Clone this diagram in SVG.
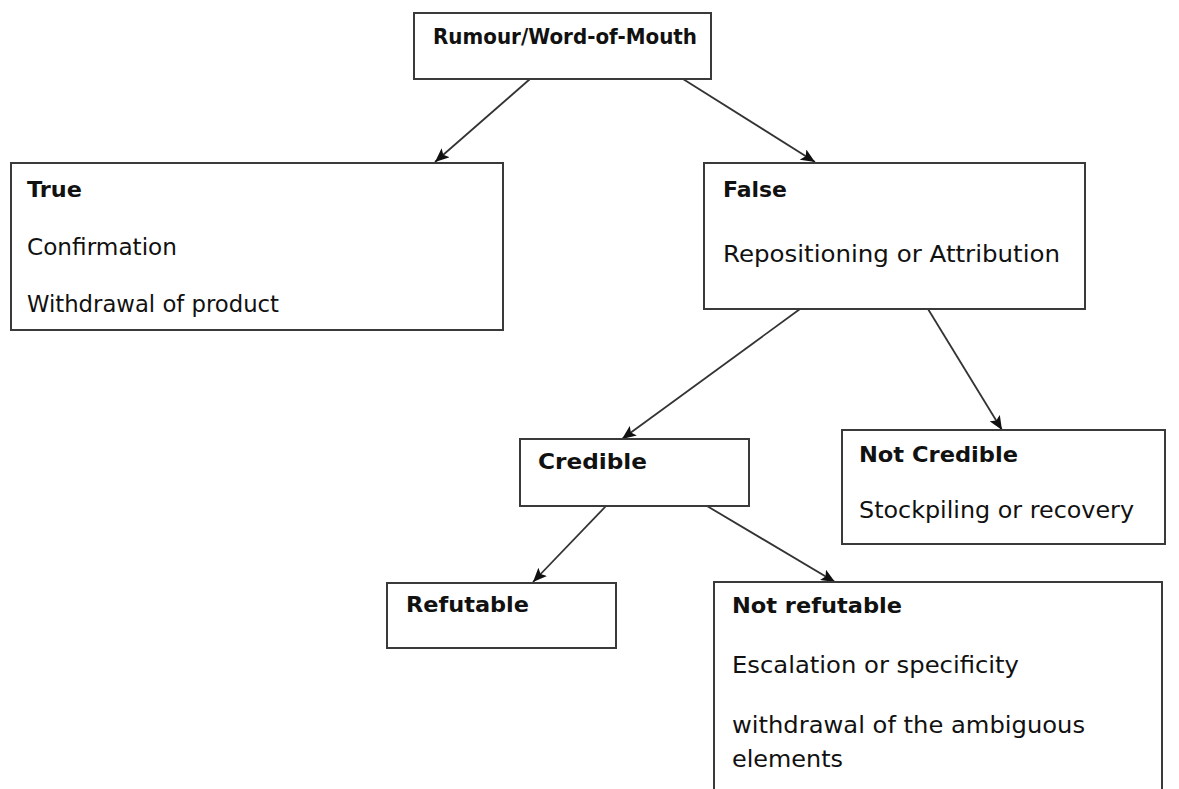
<svg xmlns="http://www.w3.org/2000/svg" width="1179" height="789" viewBox="0 0 1179 789">
  <style>
    .box { fill: #ffffff; stroke: #3a3a3a; stroke-width: 2; }
    .head { font-family: "DejaVu Sans", "Noto Sans", sans-serif; font-size: 22px; font-weight: bold; fill: #111111; }
    .body { font-family: "DejaVu Sans", "Noto Sans", sans-serif; font-size: 23px; fill: #111111; }
    .link { stroke: #333333; stroke-width: 1.8; fill: none; marker-end: url(#arrow); }
  </style>
  <defs>
    <!-- solid triangular arrowhead shared by every connector -->
    <marker id="arrow" viewBox="0 0 14 12" refX="14" refY="6" markerWidth="14" markerHeight="12" markerUnits="userSpaceOnUse" orient="auto">
      <path d="M0,0 L14,6 L0,12 L3,6 Z" fill="#111111"/>
    </marker>
  </defs>

  <rect width="1179" height="789" fill="#ffffff"/>

  <g id="connectors">
    <line class="link" x1="530" y1="79" x2="435" y2="162"/>
    <line class="link" x1="683" y1="79" x2="815" y2="162"/>
    <line class="link" x1="800" y1="309" x2="622" y2="439"/>
    <line class="link" x1="928" y1="309" x2="1002" y2="430"/>
    <line class="link" x1="606" y1="506" x2="533" y2="582"/>
    <line class="link" x1="707" y1="506" x2="835" y2="582"/>
  </g>

  <g id="rumour">
    <rect class="box" x="414" y="13" width="297" height="66"/>
    <text class="head" x="433" y="44" textLength="264" lengthAdjust="spacingAndGlyphs">Rumour/Word-of-Mouth</text>
  </g>

  <g id="true">
    <rect class="box" x="11" y="163" width="492" height="167"/>
    <text class="head" x="27" y="197" textLength="55" lengthAdjust="spacingAndGlyphs">True</text>
    <text class="body" x="27" y="255" textLength="150" lengthAdjust="spacingAndGlyphs">Confirmation</text>
    <text class="body" x="27" y="312" textLength="252" lengthAdjust="spacingAndGlyphs">Withdrawal of product</text>
  </g>

  <g id="false">
    <rect class="box" x="704" y="163" width="381" height="146"/>
    <text class="head" x="723" y="197" textLength="64" lengthAdjust="spacingAndGlyphs">False</text>
    <text class="body" x="723" y="262" textLength="337" lengthAdjust="spacingAndGlyphs">Repositioning or Attribution</text>
  </g>

  <g id="credible">
    <rect class="box" x="520" y="439" width="229" height="67"/>
    <text class="head" x="538" y="469" textLength="109" lengthAdjust="spacingAndGlyphs">Credible</text>
  </g>

  <g id="not-credible">
    <rect class="box" x="842" y="430" width="323" height="114"/>
    <text class="head" x="859" y="462" textLength="159" lengthAdjust="spacingAndGlyphs">Not Credible</text>
    <text class="body" x="859" y="518" textLength="275" lengthAdjust="spacingAndGlyphs">Stockpiling or recovery</text>
  </g>

  <g id="refutable">
    <rect class="box" x="387" y="583" width="229" height="65"/>
    <text class="head" x="406" y="612" textLength="123" lengthAdjust="spacingAndGlyphs">Refutable</text>
  </g>

  <g id="not-refutable">
    <rect class="box" x="714" y="582" width="448" height="220"/>
    <text class="head" x="732" y="613" textLength="170" lengthAdjust="spacingAndGlyphs">Not refutable</text>
    <text class="body" x="732" y="673" textLength="287" lengthAdjust="spacingAndGlyphs">Escalation or specificity</text>
    <text class="body" x="732" y="733" textLength="353" lengthAdjust="spacingAndGlyphs">withdrawal of the ambiguous</text>
    <text class="body" x="732" y="767" textLength="111" lengthAdjust="spacingAndGlyphs">elements</text>
  </g>
</svg>
